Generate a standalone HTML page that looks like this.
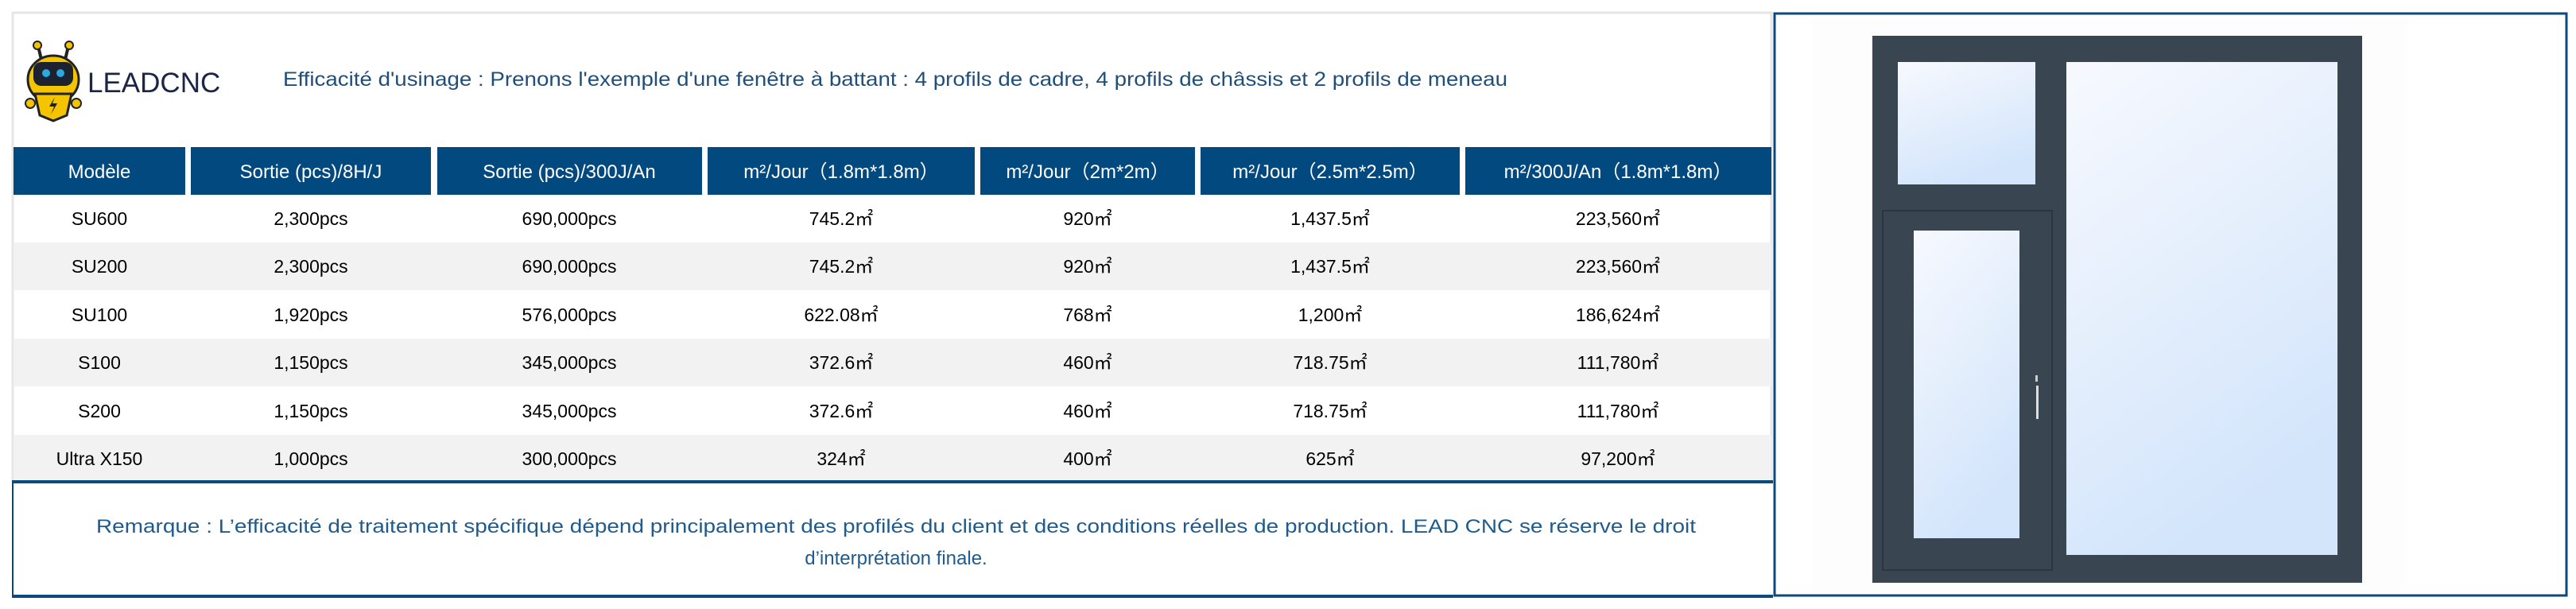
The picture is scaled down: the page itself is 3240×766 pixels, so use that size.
<!DOCTYPE html>
<html><head><meta charset="utf-8"><style>
html,body{margin:0;padding:0;background:#fff;}
svg{display:block}
text{font-family:"Liberation Sans","Noto Sans CJK SC",sans-serif;}
</style></head><body>
<svg width="3240" height="766" viewBox="0 0 3240 766" xmlns="http://www.w3.org/2000/svg">
<rect width="3240" height="766" fill="#fff"/>
<!-- left panel border -->
<rect x="16" y="16" width="2212" height="590" fill="none" stroke="#e6e6e6" stroke-width="3"/>
<!-- logo robot -->
<g>
 <line x1="48" y1="58" x2="52" y2="75" stroke="#222" stroke-width="4"/>
 <line x1="86" y1="58" x2="82" y2="75" stroke="#222" stroke-width="4"/>
 <circle cx="47" cy="57" r="5" fill="#f5c400" stroke="#222" stroke-width="2"/>
 <circle cx="87" cy="57" r="5" fill="#f5c400" stroke="#222" stroke-width="2"/>
 <ellipse cx="67" cy="100" rx="32" ry="30" fill="#f5c400" stroke="#222" stroke-width="3"/>
 <rect x="42" y="78" width="50" height="30" rx="10" fill="#1c2230"/>
 <circle cx="58" cy="92" r="5" fill="#2aa8e0"/><circle cx="76" cy="92" r="5" fill="#2aa8e0"/>
 <path d="M44 118 L90 118 L84 145 L67 152 L50 145 Z" fill="#f5c400" stroke="#222" stroke-width="3"/>
 <path d="M69 122 L62 134 L68 134 L64 144 L72 130 L66 130 Z" fill="#222"/>
 <circle cx="38" cy="130" r="6" fill="#f5c400" stroke="#222" stroke-width="2"/>
 <circle cx="96" cy="130" r="6" fill="#f5c400" stroke="#222" stroke-width="2"/>
</g>
<text x="110" y="116" font-size="35" fill="#1b2545">LEADCNC</text>
<text x="356" y="108" font-size="25" fill="#1f4e79" textLength="1540" lengthAdjust="spacingAndGlyphs">Efficacité d'usinage : Prenons l'exemple d'une fenêtre à battant : 4 profils de cadre, 4 profils de châssis et 2 profils de meneau</text>
<!-- header -->
<g fill="#01497e">
 <rect x="17" y="185" width="216" height="60"/>
 <rect x="240" y="185" width="302" height="60"/>
 <rect x="550" y="185" width="333" height="60"/>
 <rect x="890" y="185" width="336" height="60"/>
 <rect x="1233" y="185" width="270" height="60"/>
 <rect x="1510" y="185" width="326" height="60"/>
 <rect x="1843" y="185" width="385" height="60"/>
</g>
<g font-size="24" fill="#fff" text-anchor="middle">
 <text x="125" y="224">Modèle</text>
 <text x="391" y="224">Sortie (pcs)/8H/J</text>
 <text x="716" y="224">Sortie (pcs)/300J/An</text>
 <text x="1058" y="224">m²/Jour（1.8m*1.8m）</text>
 <text x="1368" y="224">m²/Jour（2m*2m）</text>
 <text x="1673" y="224">m²/Jour（2.5m*2.5m）</text>
 <text x="2035" y="224">m²/300J/An（1.8m*1.8m）</text>
</g>
<!-- zebra -->
<g fill="#f2f2f2">
 <rect x="17" y="305" width="2211" height="60"/>
 <rect x="17" y="426" width="2211" height="60"/>
 <rect x="17" y="547" width="2211" height="58"/>
</g>
<g font-size="23" fill="#000" text-anchor="middle">
 <g transform="translate(0,283)">
  <text x="125">SU600</text><text x="391">2,300pcs</text><text x="716">690,000pcs</text><text x="1058">745.2㎡</text><text x="1368">920㎡</text><text x="1673">1,437.5㎡</text><text x="2035">223,560㎡</text>
 </g>
 <g transform="translate(0,343)">
  <text x="125">SU200</text><text x="391">2,300pcs</text><text x="716">690,000pcs</text><text x="1058">745.2㎡</text><text x="1368">920㎡</text><text x="1673">1,437.5㎡</text><text x="2035">223,560㎡</text>
 </g>
 <g transform="translate(0,404)">
  <text x="125">SU100</text><text x="391">1,920pcs</text><text x="716">576,000pcs</text><text x="1058">622.08㎡</text><text x="1368">768㎡</text><text x="1673">1,200㎡</text><text x="2035">186,624㎡</text>
 </g>
 <g transform="translate(0,464)">
  <text x="125">S100</text><text x="391">1,150pcs</text><text x="716">345,000pcs</text><text x="1058">372.6㎡</text><text x="1368">460㎡</text><text x="1673">718.75㎡</text><text x="2035">111,780㎡</text>
 </g>
 <g transform="translate(0,525)">
  <text x="125">S200</text><text x="391">1,150pcs</text><text x="716">345,000pcs</text><text x="1058">372.6㎡</text><text x="1368">460㎡</text><text x="1673">718.75㎡</text><text x="2035">111,780㎡</text>
 </g>
 <g transform="translate(0,585)">
  <text x="125">Ultra X150</text><text x="391">1,000pcs</text><text x="716">300,000pcs</text><text x="1058">324㎡</text><text x="1368">400㎡</text><text x="1673">625㎡</text><text x="2035">97,200㎡</text>
 </g>
</g>
<!-- remark box -->
<line x1="15" y1="606" x2="2230" y2="606" stroke="#0c4a7e" stroke-width="4"/>
<line x1="16" y1="606" x2="16" y2="750" stroke="#0c4a7e" stroke-width="2"/>
<line x1="15" y1="750" x2="2230" y2="750" stroke="#0c4a7e" stroke-width="4"/>
<g font-size="24" fill="#1f5b8c" text-anchor="middle">
 <text x="1127" y="670" textLength="2012" lengthAdjust="spacingAndGlyphs">Remarque : L’efficacité de traitement spécifique dépend principalement des profilés du client et des conditions réelles de production. LEAD CNC se réserve le droit</text>
 <text x="1127" y="710">d’interprétation finale.</text>
</g>
<!-- right box -->
<rect x="2232" y="17" width="996" height="732" fill="#fff" stroke="#0c4a7e" stroke-width="3"/>
<rect x="2279" y="22" width="749" height="722" fill="#fdfdfd"/>
<defs>
 <linearGradient id="gl" x1="0" y1="0" x2="0.4" y2="1">
  <stop offset="0" stop-color="#f7f9fe"/><stop offset="1" stop-color="#d3e5fb"/>
 </linearGradient>
</defs>
<rect x="2355" y="45" width="616" height="688" fill="#3a4552"/>
<rect x="2387" y="78" width="173" height="154" fill="url(#gl)"/>
<rect x="2599" y="78" width="341" height="620" fill="url(#gl)"/>
<rect x="2368" y="265" width="213" height="452" fill="none" stroke="#2c3540" stroke-width="2"/>
<rect x="2407" y="290" width="133" height="387" fill="url(#gl)"/>
<rect x="2560" y="472" width="3" height="8" fill="#ccc"/>
<rect x="2561" y="485" width="3" height="42" fill="#ddd"/>
</svg>
</body></html>
